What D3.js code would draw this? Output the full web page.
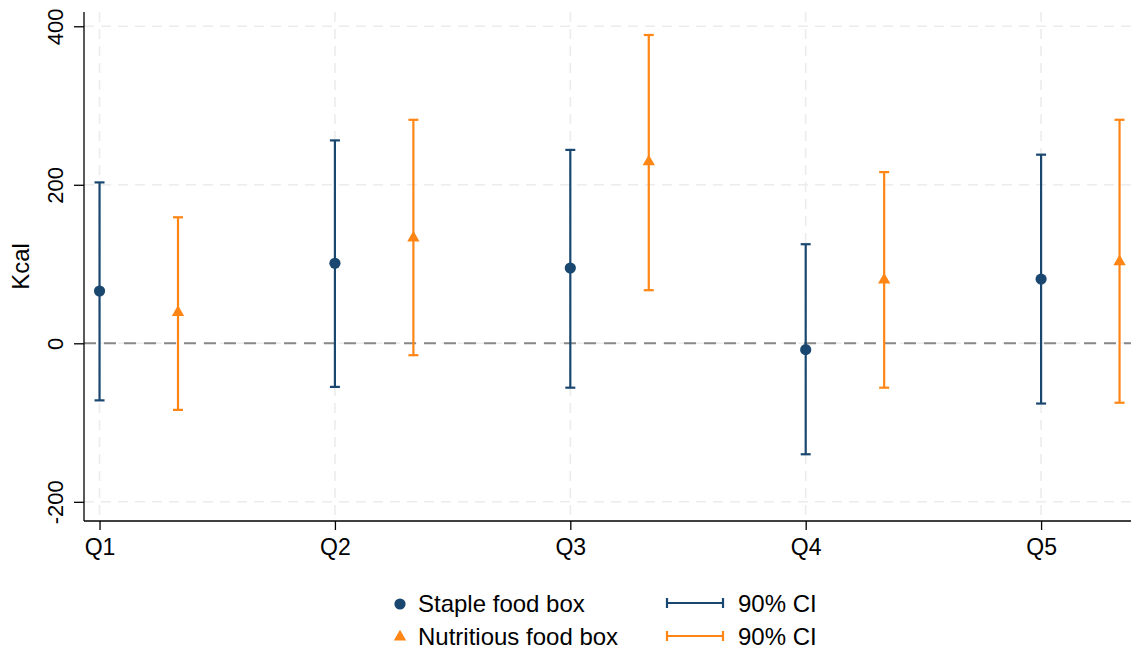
<!DOCTYPE html>
<html>
<head>
<meta charset="utf-8">
<script src="https://cdn.jsdelivr.net/npm/d3@7"></script>
<style>
  html, body { margin: 0; padding: 0; background: #fff; }
  svg { display: block; font-family: "Liberation Sans", Arial, Helvetica, sans-serif; }
</style>
</head>
<body>
<svg id="chart" width="1133" height="656"></svg>
<script>
// Quintile groups
const categories = ["Q1", "Q2", "Q3", "Q4", "Q5"];

// Staple food box: point estimate and 90% CI bounds (Kcal)
const stapleEst   = [66, 101, 95, -8, 81];
const stapleLower = [-72, -55, -56, -140, -76];
const stapleUpper = [203, 256, 244, 125, 238];

// Nutritious food box: point estimate and 90% CI bounds (Kcal)
const nutriEst   = [39, 133, 229, 80, 103];
const nutriLower = [-84, -15, 67, -56, -75];
const nutriUpper = [159, 282, 389, 216, 282];

const yTicks = [-200, 0, 200, 400];
const seriesNames = ["Staple food box", "Nutritious food box"];
const ciLabel = "90% CI";

const blue = "#1a476f";
const orange = "#ff8514";

const svg = d3.select("#chart");
const plot = { left: 84, right: 1131, top: 12, bottom: 521 };

const x = d3.scaleLinear().domain([0.934, 5.382]).range([plot.left, plot.right]);
const y = d3.scaleLinear().domain([-224.2, 418]).range([plot.bottom, plot.top]);

const offset = 1 / 3;

// Horizontal gridlines
svg.append("g").selectAll("line").data(yTicks).join("line")
  .attr("x1", plot.left).attr("x2", plot.right)
  .attr("y1", d => y(d)).attr("y2", d => y(d))
  .attr("stroke", "#ececec").attr("stroke-width", 1.6)
  .attr("stroke-dasharray", "10,7");

// Vertical gridlines at group positions
svg.append("g").selectAll("line").data(categories).join("line")
  .attr("x1", (d, i) => x(i + 1)).attr("x2", (d, i) => x(i + 1))
  .attr("y1", plot.top).attr("y2", plot.bottom)
  .attr("stroke", "#ececec").attr("stroke-width", 1.6)
  .attr("stroke-dasharray", "10,7");

// Zero reference line
svg.append("line")
  .attr("x1", plot.left).attr("x2", plot.right)
  .attr("y1", y(0)).attr("y2", y(0))
  .attr("stroke", "#888").attr("stroke-width", 2)
  .attr("stroke-dasharray", "12,8");

// Y axis (plain hyphen for negative labels)
const yAxis = d3.axisLeft(y).tickValues(yTicks).tickSize(10).tickPadding(0).tickFormat(d => String(d));
const gy = svg.append("g").attr("transform", `translate(${plot.left},0)`).call(yAxis);
gy.select(".domain").attr("stroke", "#000").attr("stroke-width", 1.3)
  .attr("d", `M0,${plot.top}V${plot.bottom}`);
gy.selectAll(".tick line").attr("stroke", "#000").attr("stroke-width", 1.3);
gy.selectAll(".tick text")
  .attr("x", null).attr("dy", null)
  .attr("transform", "translate(-21,0) rotate(-90)")
  .attr("text-anchor", "middle")
  .attr("font-size", 22).attr("fill", "#000");

// X axis
const xAxis = d3.axisBottom(x).tickValues([1, 2, 3, 4, 5]).tickSize(9).tickPadding(0)
  .tickFormat(d => categories[d - 1]);
const gx = svg.append("g").attr("transform", `translate(0,${plot.bottom})`).call(xAxis);
gx.select(".domain").attr("stroke", "#000").attr("stroke-width", 1.3)
  .attr("d", `M${plot.left},0H${plot.right}`);
gx.selectAll(".tick line").attr("stroke", "#000").attr("stroke-width", 1.3);
gx.selectAll(".tick text")
  .attr("y", 34).attr("dy", null)
  .attr("font-size", 23).attr("fill", "#000");

// Y axis title
svg.append("text")
  .attr("transform", `translate(29,${(plot.top + plot.bottom) / 2}) rotate(-90)`)
  .attr("text-anchor", "middle").attr("font-size", 24).attr("fill", "#000")
  .text("Kcal");

// Confidence interval bars with caps
function drawCI(lower, upper, color, shift) {
  const g = svg.append("g").attr("stroke", color).attr("stroke-width", 2.2).attr("fill", "none");
  const capW = 5;
  const rows = categories.map((c, i) => ({ i, lo: lower[i], hi: upper[i] }));
  g.selectAll("line.ci").data(rows).join("line").attr("class", "ci")
    .attr("x1", d => x(d.i + 1 + shift)).attr("x2", d => x(d.i + 1 + shift))
    .attr("y1", d => y(d.lo)).attr("y2", d => y(d.hi));
  g.selectAll("line.cap-hi").data(rows).join("line").attr("class", "cap-hi")
    .attr("x1", d => x(d.i + 1 + shift) - capW).attr("x2", d => x(d.i + 1 + shift) + capW)
    .attr("y1", d => y(d.hi)).attr("y2", d => y(d.hi));
  g.selectAll("line.cap-lo").data(rows).join("line").attr("class", "cap-lo")
    .attr("x1", d => x(d.i + 1 + shift) - capW).attr("x2", d => x(d.i + 1 + shift) + capW)
    .attr("y1", d => y(d.lo)).attr("y2", d => y(d.lo));
}
drawCI(stapleLower, stapleUpper, blue, 0);
drawCI(nutriLower, nutriUpper, orange, offset);

// Point estimates
svg.append("g").selectAll("circle").data(stapleEst).join("circle")
  .attr("cx", (d, i) => x(i + 1)).attr("cy", d => y(d))
  .attr("r", 5.6).attr("fill", blue);

const tri = d3.symbol().type(d3.symbolTriangle).size(66);
svg.append("g").selectAll("path").data(nutriEst).join("path")
  .attr("transform", (d, i) => `translate(${x(i + 1 + offset)},${y(d)})`)
  .attr("d", tri).attr("fill", orange);

// Legend
const legend = svg.append("g").attr("font-size", 24).attr("fill", "#000");
const rowsY = [604, 637];
legend.append("circle").attr("cx", 400).attr("cy", rowsY[0]).attr("r", 5.6).attr("fill", blue);
legend.append("path").attr("transform", `translate(400,${rowsY[1]})`).attr("d", tri).attr("fill", orange);
seriesNames.forEach((name, k) => {
  legend.append("text").attr("x", 418).attr("y", rowsY[k]).attr("dy", "0.35em").text(name);
  const c = k === 0 ? blue : orange;
  const ci = legend.append("g").attr("stroke", c).attr("stroke-width", 2.2);
  ci.append("line").attr("x1", 667).attr("x2", 723).attr("y1", rowsY[k] - 1).attr("y2", rowsY[k] - 1);
  ci.append("line").attr("x1", 667).attr("x2", 667).attr("y1", rowsY[k] - 6).attr("y2", rowsY[k] + 4);
  ci.append("line").attr("x1", 723).attr("x2", 723).attr("y1", rowsY[k] - 6).attr("y2", rowsY[k] + 4);
  legend.append("text").attr("x", 738).attr("y", rowsY[k]).attr("dy", "0.35em").text(ciLabel);
});
</script>
</body>
</html>
